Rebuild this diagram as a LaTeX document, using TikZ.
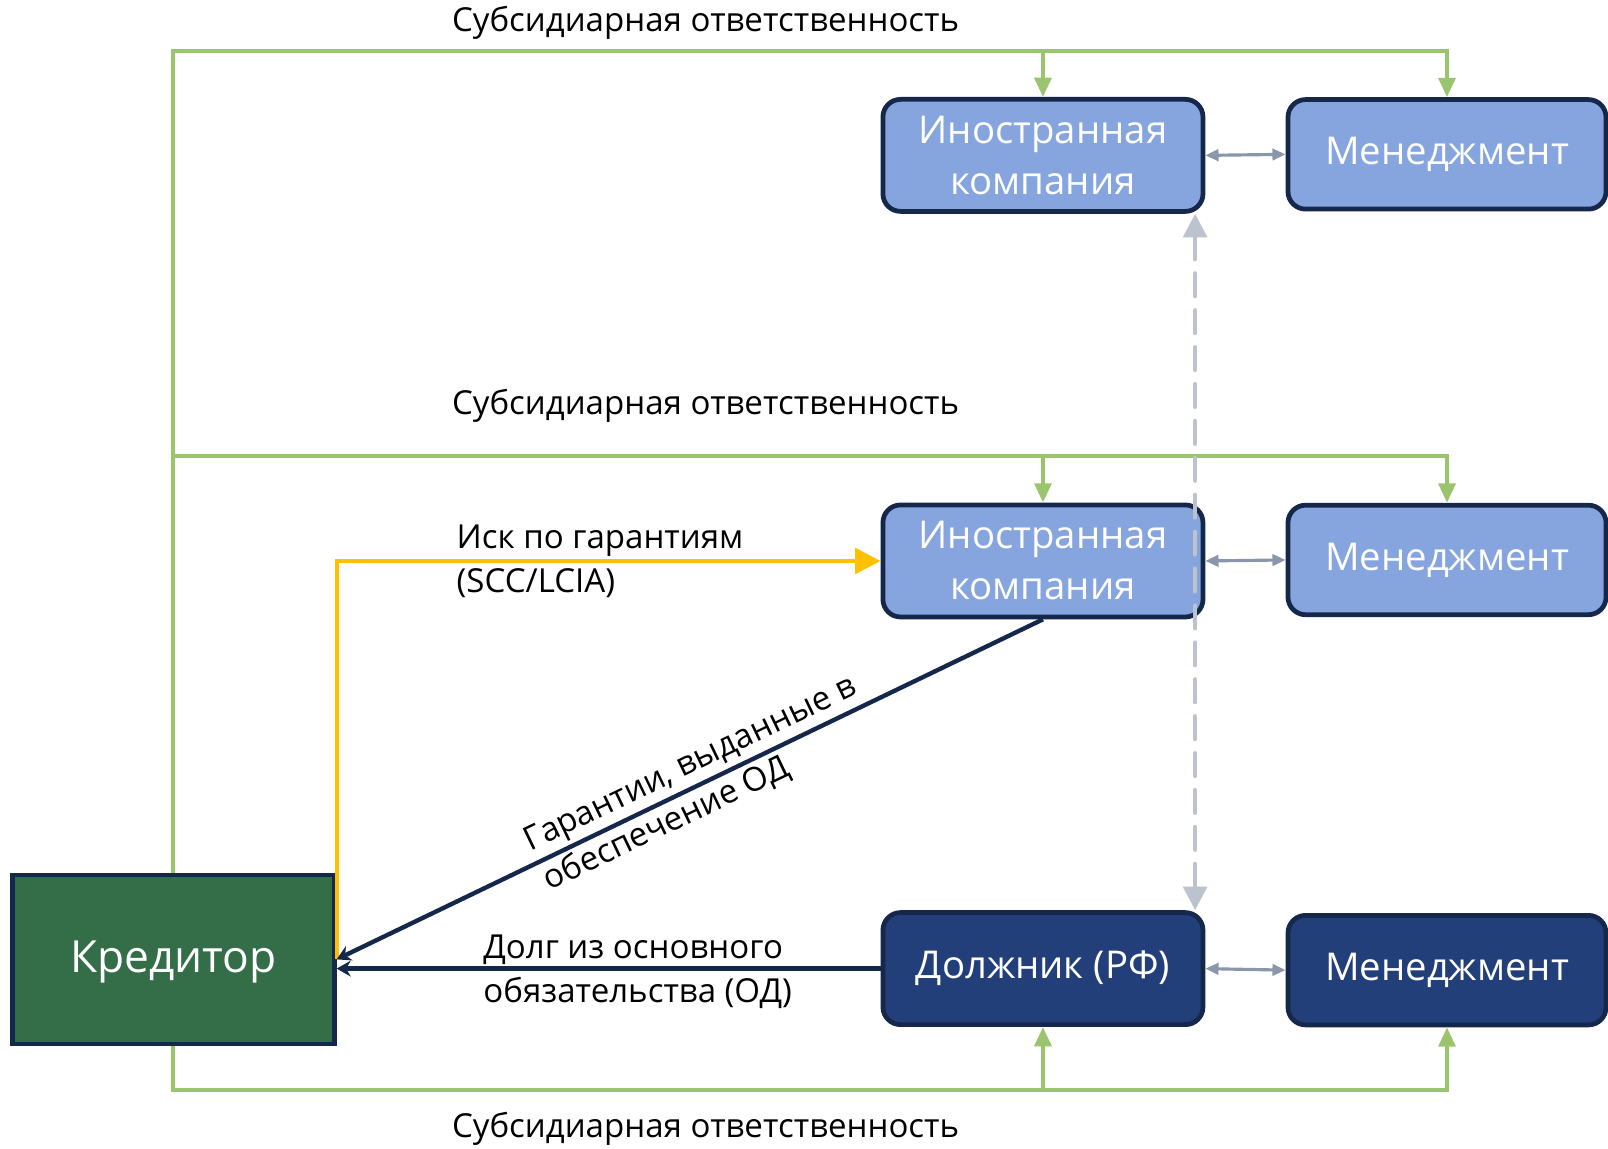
\documentclass[tikz,border=0pt]{standalone}
\usepackage{fontspec}
\setmainfont{Open Sans}
\usetikzlibrary{arrows.meta}
\definecolor{subgreen}{HTML}{9BC46E}
\definecolor{navy}{HTML}{15284C}
\definecolor{lightblue}{HTML}{86A5DE}
\definecolor{debtblue}{HTML}{223F7A}
\definecolor{credgreen}{HTML}{336E48}
\definecolor{claimyellow}{HTML}{FFC000}
\definecolor{linkgray}{HTML}{8A97AA}
\definecolor{dashgray}{HTML}{BCC2CE}

\begin{document}
\begin{tikzpicture}[x=0.02051cm, y=-0.02051cm,
    box/.style={draw=navy, line width=2.7pt, rounded corners=10pt, text=white, align=center, minimum width=6.40cm, minimum height=2.24cm, inner sep=0pt, font=\fontsize{21.8}{29}\selectfont},
    foreign/.style={box, fill=lightblue},
    debt/.style={box, fill=debtblue},
    mgmt/.style={minimum width=6.36cm, minimum height=2.19cm},
    lbl/.style={inner sep=0pt, text=black, font=\fontsize{18.8}{25}\selectfont},
    sub/.style={draw=subgreen, line width=2.4pt},
    subarrow/.style={sub, -{Triangle[width=9.5pt, length=11pt]}},
    link/.style={draw=linkgray, line width=1.8pt, {Triangle[width=6.5pt, length=7.5pt]}-{Triangle[width=6.5pt, length=7.5pt]}},
    dashlink/.style={draw=dashgray, line width=2.4pt, line cap=round, dash pattern=on 13pt off 8pt, {Triangle[width=13.5pt, length=13.5pt]}-{Triangle[width=13.5pt, length=13.5pt]}}]
    \useasboundingbox (0,0) rectangle (1568,1120.4);

    \node[draw=navy, fill=credgreen, line width=2.6pt, text=white, minimum width=6.44cm, minimum height=3.38cm, text depth=0.1cm, font=\fontsize{25.2}{30}\selectfont] (cred) at (169,935.5) {Кредитор};

    \node[foreign] (fc1) at (1017,151.5) {Иностранная\\компания};
    \node[foreign, mgmt] (mg1) at (1411,150.5) {Менеджмент};
    \node[foreign] (fc2) at (1017,547) {Иностранная\\компания};
    \node[foreign, mgmt] (mg2) at (1411,546) {Менеджмент};
    \node[debt] (debtor) at (1017,944.5) {Должник (РФ)};
    \node[debt, mgmt] (mg3) at (1411,946) {Менеджмент};

    \coordinate (top) at (0,50);
    \coordinate (mid) at (0,445);
    \coordinate (bot) at (0,1063);

    % subsidiary liability
    \draw[subarrow] (cred.north) |- (mg1.north |- top) -- (mg1.north);
    \draw[subarrow] (fc1.north |- top) -- (fc1.north);
    \draw[subarrow] (cred.north |- mid) -- (mg2.north |- mid) -- (mg2.north);
    \draw[subarrow] (fc2.north |- mid) -- (fc2.north);
    \draw[subarrow] (cred.south) |- (mg3.south |- bot) -- (mg3.south);
    \draw[subarrow] (debtor.south |- bot) -- (debtor.south);

    \node[lbl] (sub1) at (688,22) {Субсидиарная ответственность};
    \node[lbl] (sub2) at (688,396) {Субсидиарная ответственность};
    \node[lbl] (sub3) at (688,1101) {Субсидиарная ответственность};

    % claim
    \draw[draw=claimyellow, line width=2.4pt, -{Triangle[width=14.5pt, length=14.5pt]}] (cred.east) |- (fc2.west);
    \node[lbl, anchor=west, align=left] (claim) at (445,547) {Иск по гарантиям\\(SCC/LCIA)};

    % guarantees and debt
    \draw[navy, line width=2.5pt, -{Stealth[width=9pt, length=8pt]}] (fc2.south) -- node[pos=0.72, sloped, lbl, anchor=west, align=left] {Гарантии, выданные в\\обеспечение ОД} (cred.east);
    \draw[navy, line width=2.5pt, -{Stealth[width=9pt, length=8pt]}] (debtor.west) -- (debtor.west -| cred.east);
    \node[lbl, anchor=west, align=left] (debtlbl) at (471,948) {Долг из основного\\обязательства (ОД)};

    % links
    \draw[link] (fc1.east) -- (mg1.west);
    \draw[link] (fc2.east) -- (mg2.west);
    \draw[link] (debtor.east) -- (mg3.west);
    \draw[dashlink] ([xshift=-0.205cm]fc1.south east) -- ([xshift=-0.205cm]debtor.north east);
\end{tikzpicture}
\end{document}
